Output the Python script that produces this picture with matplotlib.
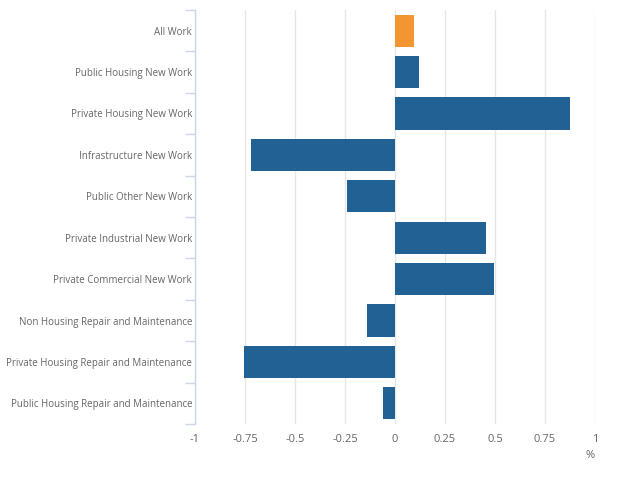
import matplotlib.pyplot as plt
import numpy as np

# Kategorien (von oben nach unten)
categories = [
    "All Work",
    "Public Housing New Work",
    "Private Housing New Work",
    "Infrastructure New Work",
    "Public Other New Work",
    "Private Industrial New Work",
    "Private Commercial New Work",
    "Non Housing Repair and Maintenance",
    "Private Housing Repair and Maintenance",
    "Public Housing Repair and Maintenance",
]
values = [0.097, 0.12, 0.875, -0.72, -0.24, 0.457, 0.497, -0.14, -0.753, -0.06]
xticks = [-1, -0.75, -0.5, -0.25, 0, 0.25, 0.5, 0.75, 1]
xtick_labels = ["-1", "-0.75", "-0.5", "-0.25", "0", "0.25", "0.5", "0.75", "1"]

blue = "#216194"
orange = "#f39530"
textcol = "#666666"

plt.rcParams['font.family'] = ['Open Sans', 'DejaVu Sans']

fig = plt.figure(figsize=(6.22, 4.78), dpi=100)
ax = fig.add_axes([195/622, 1 - 424/478, 400/622, 414/478])

y = np.arange(len(categories))
colors = [orange] + [blue] * (len(categories) - 1)
ax.barh(y, values, height=0.78, color=colors, zorder=3)

ax.set_ylim(len(categories) - 0.5, -0.5)
ax.set_xlim(-1, 1)

ax.set_xticks(xticks)
ax.set_xticklabels(xtick_labels, fontsize=8, color=textcol)
ax.tick_params(axis='x', length=0, pad=7)

ax.set_yticks(y)
ax.set_yticklabels(categories, fontsize=7.0, color=textcol)
ax.set_yticks(np.arange(len(categories) + 1) - 0.5, minor=True)
ax.tick_params(axis='y', which='major', length=0, pad=2)
ax.tick_params(axis='y', which='minor', length=7, color="#ccd6eb", width=1)

ax.grid(axis='x', color="#e6e6e6", linewidth=1, zorder=0)
for s in ["top", "right", "bottom"]:
    ax.spines[s].set_visible(False)
ax.spines["left"].set_color("#ccd6eb")
ax.spines["left"].set_linewidth(1)
ax.spines["left"].set_zorder(4)

ax.text(1, -0.063, "%", transform=ax.transAxes, ha='right', va='top',
        fontsize=8, color=textcol)

plt.savefig("out.png", dpi=100)
plt.close()
